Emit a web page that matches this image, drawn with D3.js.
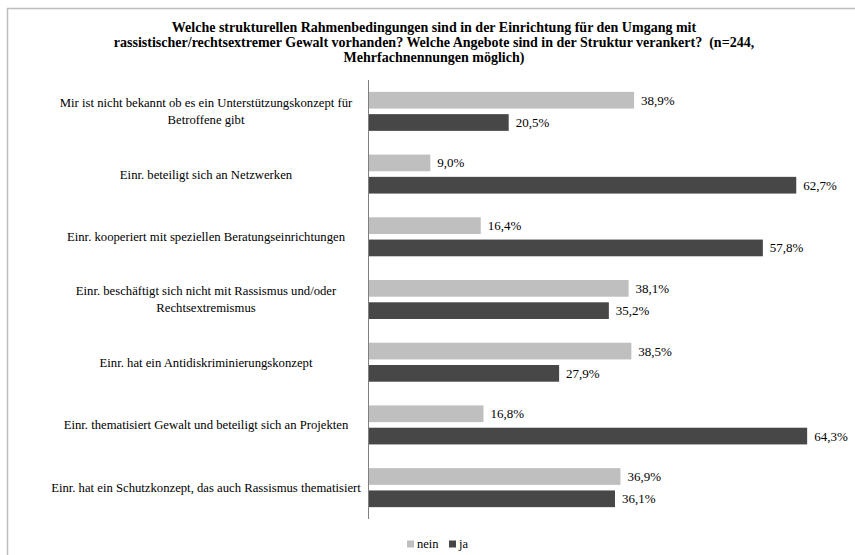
<!DOCTYPE html>
<html>
<head>
<meta charset="utf-8">
<script src="https://cdn.jsdelivr.net/npm/d3@7"></script>
<style>
  html, body { margin: 0; padding: 0; background: #fff; }
  svg { display: block; }
  text { font-family: "Liberation Serif", "Times New Roman", serif; fill: #000; white-space: pre; }
</style>
</head>
<body>
<svg id="chart" width="855" height="555"></svg>
<script>
// Survey categories (top to bottom), each label split into its display lines
const categories = [
  ["Mir ist nicht bekannt ob es ein Unterstützungskonzept für", "Betroffene gibt"],
  ["Einr. beteiligt sich an Netzwerken"],
  ["Einr. kooperiert mit speziellen Beratungseinrichtungen"],
  ["Einr. beschäftigt sich nicht mit Rassismus und/oder", "Rechtsextremismus"],
  ["Einr. hat ein Antidiskriminierungskonzept"],
  ["Einr. thematisiert Gewalt und beteiligt sich an Projekten"],
  ["Einr. hat ein Schutzkonzept, das auch Rassismus thematisiert"]
];
const neinValues = [38.9, 9.0, 16.4, 38.1, 38.5, 16.8, 36.9];
const jaValues   = [20.5, 62.7, 57.8, 35.2, 27.9, 64.3, 36.1];
const seriesNames = ["nein", "ja"];
const seriesColors = ["#bfbfbf", "#474747"];
const titleLines = [
  "Welche strukturellen Rahmenbedingungen sind in der Einrichtung für den Umgang mit",
  "rassistischer/rechtsextremer Gewalt vorhanden? Welche Angebote sind in der Struktur verankert?  (n=244,",
  "Mehrfachnennungen möglich)"
];

const FONT = "Liberation Serif, Times New Roman, serif";
const svg = d3.select("#chart");
const fmt = v => d3.format(".1f")(v).replace(".", ",") + "%";

// Outer frame (top and left edges visible)
svg.append("line").attr("x1", 7).attr("x2", 855).attr("y1", 8.5).attr("y2", 8.5)
  .attr("stroke", "#bdbdbd").attr("stroke-width", 1.5);
svg.append("line").attr("x1", 7.5).attr("x2", 7.5).attr("y1", 8).attr("y2", 555)
  .attr("stroke", "#bdbdbd").attr("stroke-width", 1.5);

// Title
svg.append("g").selectAll("text").data(titleLines).join("text")
  .attr("x", 434).attr("y", (d, i) => 32 + i * 15)
  .attr("text-anchor", "middle")
  .attr("font-family", FONT)
  .attr("font-size", 14).attr("font-weight", "bold")
  .text(d => d);

const plotTop = 80, plotBottom = 519;
const x = d3.scaleLinear().domain([0, 70]).range([369, 846]);
const y = d3.scaleBand().domain(d3.range(categories.length)).range([plotTop, plotBottom]);
const sub = d3.scaleBand().domain(seriesNames).range([-19.5, 19.5]).paddingInner(0.25);

const rows = categories.map((c, i) => ({ i, label: c, vals: [neinValues[i], jaValues[i]] }));

const groups = svg.append("g").selectAll("g").data(rows).join("g")
  .attr("transform", d => `translate(0,${y(d.i) + y.bandwidth() / 2})`);

groups.selectAll("rect").data(d => d.vals.map((v, k) => ({ v, k }))).join("rect")
  .attr("x", x(0))
  .attr("y", d => sub(seriesNames[d.k]))
  .attr("width", d => x(d.v) - x(0))
  .attr("height", sub.bandwidth())
  .attr("fill", d => seriesColors[d.k]);

groups.selectAll("text.val").data(d => d.vals.map((v, k) => ({ v, k }))).join("text")
  .attr("class", "val")
  .attr("x", d => x(d.v) + 7)
  .attr("y", d => sub(seriesNames[d.k]) + sub.bandwidth() / 2)
  .attr("dy", "0.35em")
  .attr("font-family", FONT)
  .attr("font-size", 13)
  .text(d => fmt(d.v));

// Category labels, centred in the left margin
groups.each(function (d) {
  const g = d3.select(this);
  const n = d.label.length;
  g.selectAll("text.cat").data(d.label).join("text")
    .attr("class", "cat")
    .attr("x", 206)
    .attr("y", (t, j) => (j - (n - 1) / 2) * 17)
    .attr("dy", "0.35em")
    .attr("text-anchor", "middle")
    .attr("font-family", FONT)
    .attr("font-size", 12.7)
    .text(t => t);
});

// Vertical category axis
svg.append("line").attr("x1", x(0) - 0.5).attr("x2", x(0) - 0.5)
  .attr("y1", plotTop).attr("y2", plotBottom)
  .attr("stroke", "#7f7f7f").attr("stroke-width", 1);

// Legend
const legend = svg.append("g").attr("transform", "translate(407,544)");
const legendX = [0, 42];
seriesNames.forEach((name, k) => {
  const lg = legend.append("g").attr("transform", `translate(${legendX[k]},0)`);
  lg.append("rect").attr("x", 0).attr("y", -3.5).attr("width", 7).attr("height", 7)
    .attr("fill", seriesColors[k]);
  lg.append("text").attr("x", 10).attr("dy", "0.35em")
    .attr("font-family", FONT).attr("font-size", 12.5).text(name);
});
</script>
</body>
</html>
